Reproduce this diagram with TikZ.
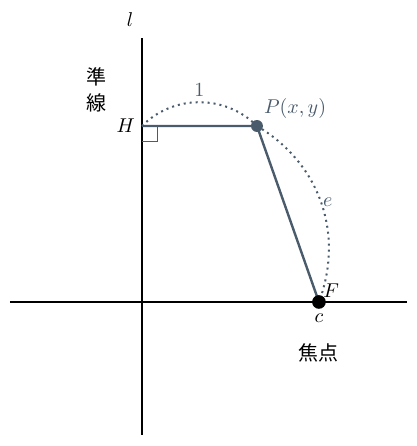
\documentclass[tikz,border=0pt]{standalone}
\usepackage{fontspec}
\newfontfamily\jpfont{Noto Sans CJK JP}
\usetikzlibrary{calc}
\definecolor{slate}{HTML}{4A5B6C}
\tikzset{seg/.style={draw=slate,line width=1.2pt},
  arc/.style={draw=slate,dotted,line width=1pt}}

\begin{document}
\begin{tikzpicture}
\useasboundingbox (-2.495,-2.531) rectangle (4.833,5.307);
\draw[line width=1pt] (-2.32,0)--(4.657,0);
\draw[line width=1pt] (0,-2.337)--(0,4.639);
\node at (-0.211,4.956) (l) {$l$};
\node[font=\jpfont] at (-0.791,3.954) (jun) {準};
\node[font=\jpfont] at (-0.791,3.497) (sen) {線};
\coordinate (H) at (0,3.093);
\coordinate (P) at (2.021,3.093);
\coordinate (F) at (3.110,0);
\node[left] at (H) (Hl) {$H$};
\draw[slate,line width=0.5pt] ($(H)+(0,-0.28)$)-|($(H)+(0.28,0)$);
\draw[arc] (H) to[bend left=45] node[above,slate,pos=0.5,inner sep=2.5pt] (one) {$1$} (P);
\draw[arc] (P) to[bend left=40] node[right,slate,pos=0.5,inner sep=0.5pt] (e) {$e$} (F);
\draw[seg] (H)--(P)--(F);
\fill[slate] (P) circle (0.105);
\fill (F) circle (0.12);
\node[above right,slate] at (P) (Pl) {$P(x,y)$};
\node[above right,inner sep=2pt] at (F) (Fl) {$F$};
\node[below,inner sep=6pt] at (F) (cl) {$c$};
\node[font=\jpfont] at (3.110,-0.896) (focus) {焦点};
\end{tikzpicture}
\end{document}
